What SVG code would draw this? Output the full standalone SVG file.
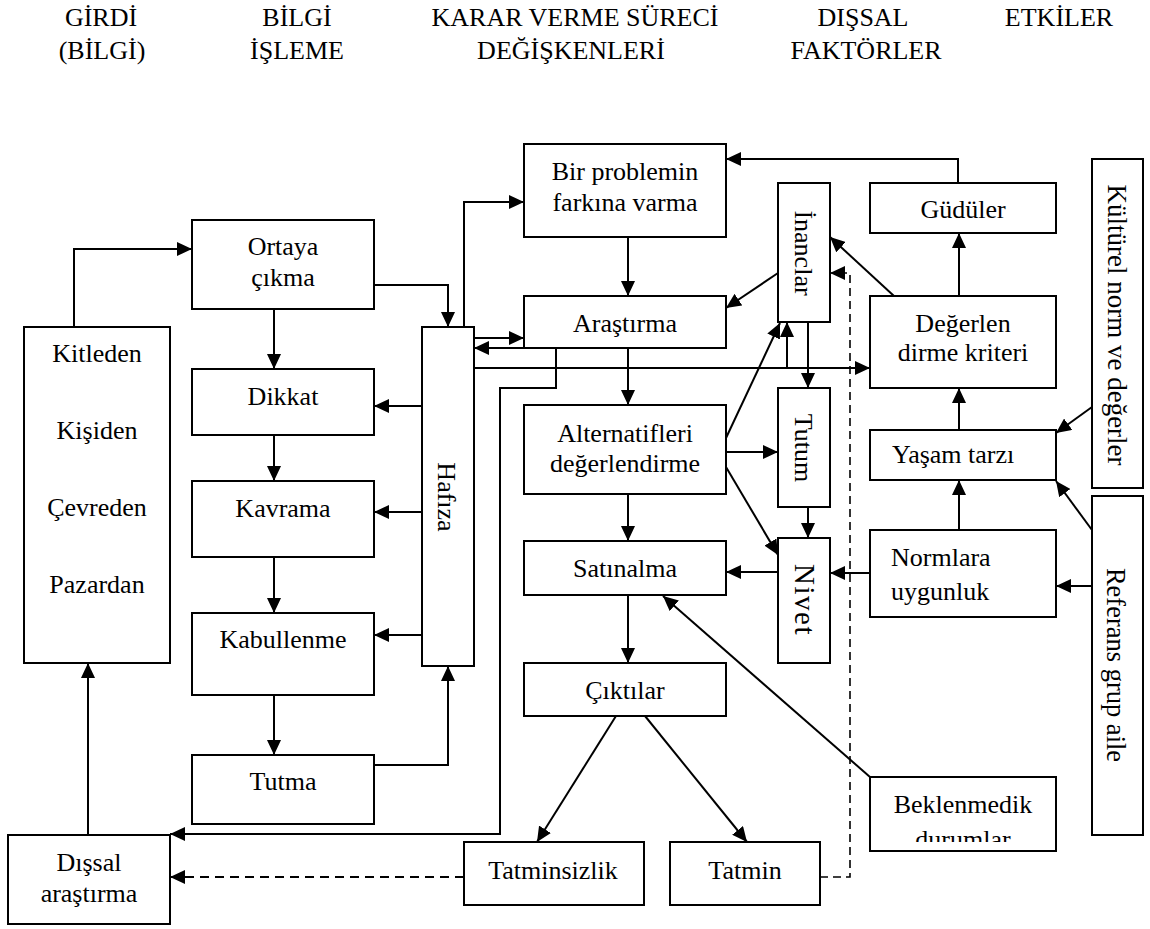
<svg xmlns="http://www.w3.org/2000/svg" width="1150" height="929" viewBox="0 0 1150 929">
  <style>
    text { font-family: "Liberation Serif", "Times New Roman", serif; font-size: 26px; fill: #000; }
    .c { text-anchor: middle; }
    .box { fill: #fff; stroke: #000; stroke-width: 2; }
    .ln { fill: none; stroke: #000; stroke-width: 2; }
    .dash { fill: none; stroke: #000; stroke-width: 2; stroke-dasharray: 9 6; }
    .dash2 { fill: none; stroke: #000; stroke-width: 1.6; stroke-dasharray: 8 5; }
  </style>
  <defs>
    <marker id="ah" markerUnits="userSpaceOnUse" markerWidth="16" markerHeight="14" refX="15" refY="7" orient="auto">
      <path d="M0,0 L15,7 L0,14 Z" fill="#000"/>
    </marker>
    <clipPath id="clipBek">
      <rect x="870" y="777" width="186" height="65"/>
    </clipPath>
  </defs>

  <rect width="1150" height="929" fill="#fff"/>

  <!-- column headings -->
  <g id="headings">
    <text class="c" x="101" y="26">GİRDİ</text>
    <text class="c" x="102" y="59">(BİLGİ)</text>
    <text class="c" x="297" y="26">BİLGİ</text>
    <text class="c" x="297" y="59">İŞLEME</text>
    <text class="c" x="575" y="26">KARAR VERME SÜRECİ</text>
    <text class="c" x="571" y="59">DEĞİŞKENLERİ</text>
    <text class="c" x="863" y="26">DIŞSAL</text>
    <text class="c" x="866" y="59">FAKTÖRLER</text>
    <text class="c" x="1059" y="26">ETKİLER</text>
  </g>

  <!-- input sources -->
  <g id="kaynaklar">
    <rect class="box" x="24" y="327" width="146" height="336"/>
    <text class="c" x="97" y="362">Kitleden</text>
    <text class="c" x="97" y="439">Kişiden</text>
    <text class="c" x="97" y="516">Çevreden</text>
    <text class="c" x="97" y="593">Pazardan</text>
  </g>
  <g id="dissal-arastirma">
    <rect class="box" x="8" y="835" width="162" height="89"/>
    <text class="c" x="89" y="871">Dışsal</text>
    <text class="c" x="89" y="902">araştırma</text>
  </g>

  <!-- information processing -->
  <g id="ortaya-cikma">
    <rect class="box" x="192" y="220" width="182" height="89"/>
    <text class="c" x="283" y="255">Ortaya</text>
    <text class="c" x="283" y="286">çıkma</text>
  </g>
  <g id="dikkat">
    <rect class="box" x="192" y="369" width="182" height="66"/>
    <text class="c" x="283" y="405">Dikkat</text>
  </g>
  <g id="kavrama">
    <rect class="box" x="192" y="481" width="182" height="76"/>
    <text class="c" x="283" y="517">Kavrama</text>
  </g>
  <g id="kabullenme">
    <rect class="box" x="192" y="613" width="182" height="82"/>
    <text class="c" x="283" y="648">Kabullenme</text>
  </g>
  <g id="tutma">
    <rect class="box" x="192" y="755" width="182" height="69"/>
    <text class="c" x="283" y="790">Tutma</text>
  </g>
  <g id="hafiza">
    <rect class="box" x="422" y="327" width="52" height="339"/>
    <text class="c" transform="translate(438,497) rotate(90)">Hafıza</text>
  </g>

  <!-- decision process -->
  <g id="problem">
    <rect class="box" x="524" y="144" width="202" height="93"/>
    <text class="c" x="625" y="180">Bir problemin</text>
    <text class="c" x="625" y="211">farkına varma</text>
  </g>
  <g id="arastirma">
    <rect class="box" x="524" y="296" width="202" height="52"/>
    <text class="c" x="625" y="332">Araştırma</text>
  </g>
  <g id="alternatifler">
    <rect class="box" x="524" y="405" width="202" height="89"/>
    <text class="c" x="625" y="442">Alternatifleri</text>
    <text class="c" x="625" y="472">değerlendirme</text>
  </g>
  <g id="satinalma">
    <rect class="box" x="524" y="541" width="202" height="54"/>
    <text class="c" x="625" y="577">Satınalma</text>
  </g>
  <g id="ciktilar">
    <rect class="box" x="524" y="663" width="202" height="53"/>
    <text class="c" x="625" y="699">Çıktılar</text>
  </g>
  <g id="tatminsizlik">
    <rect class="box" x="464" y="842" width="180" height="63"/>
    <text class="c" x="553" y="879">Tatminsizlik</text>
  </g>
  <g id="tatmin">
    <rect class="box" x="670" y="842" width="150" height="63"/>
    <text class="c" x="745" y="879">Tatmin</text>
  </g>
  <g id="inanclar">
    <rect class="box" x="778" y="183" width="52" height="139"/>
    <text class="c" transform="translate(795,253) rotate(90)">İnanclar</text>
  </g>
  <g id="tutum">
    <rect class="box" x="778" y="388" width="52" height="119"/>
    <text class="c" transform="translate(795,448) rotate(90)">Tutum</text>
  </g>
  <g id="niyet">
    <rect class="box" x="778" y="538" width="52" height="125"/>
    <text class="c" style="font-size:29px;letter-spacing:1.5px" transform="translate(795,600) rotate(90)">Nivet</text>
  </g>

  <!-- external factors -->
  <g id="guduler">
    <rect class="box" x="870" y="183" width="186" height="50"/>
    <text class="c" x="963" y="218">Güdüler</text>
  </g>
  <g id="kriter">
    <rect class="box" x="870" y="296" width="186" height="92"/>
    <text class="c" x="963" y="332">Değerlen</text>
    <text class="c" x="963" y="361">dirme kriteri</text>
  </g>
  <g id="yasam-tarzi">
    <rect class="box" x="870" y="430" width="186" height="50"/>
    <text x="892" y="463">Yaşam tarzı</text>
  </g>
  <g id="normlara-uygunluk">
    <rect class="box" x="870" y="530" width="186" height="87"/>
    <text x="891" y="566">Normlara</text>
    <text x="891" y="600">uygunluk</text>
  </g>
  <g id="beklenmedik">
    <rect class="box" x="870" y="777" width="186" height="74"/>
    <g clip-path="url(#clipBek)">
      <text class="c" x="963" y="813">Beklenmedik</text>
      <text class="c" x="963" y="848">durumlar</text>
    </g>
  </g>

  <!-- effects -->
  <g id="kulturel">
    <rect class="box" x="1092" y="159" width="51" height="329"/>
    <text class="c" style="font-size:27px" transform="translate(1108,325) rotate(90)">Kültürel norm ve değerler</text>
  </g>
  <g id="referans">
    <rect class="box" x="1092" y="496" width="51" height="339"/>
    <text class="c" style="font-size:26.5px" transform="translate(1107,665) rotate(90)">Referans grup aile</text>
  </g>

  <!-- connectors -->
  <g id="connectors">
    <path class="ln" d="M74,327 V249 H192" marker-end="url(#ah)"/>
    <path class="ln" d="M374,285 H448 V327" marker-end="url(#ah)"/>
    <path class="ln" d="M274,309 V369" marker-end="url(#ah)"/>
    <path class="ln" d="M274,435 V481" marker-end="url(#ah)"/>
    <path class="ln" d="M274,557 V613" marker-end="url(#ah)"/>
    <path class="ln" d="M274,695 V755" marker-end="url(#ah)"/>
    <path class="ln" d="M422,406 H374" marker-end="url(#ah)"/>
    <path class="ln" d="M422,512 H374" marker-end="url(#ah)"/>
    <path class="ln" d="M422,635 H374" marker-end="url(#ah)"/>
    <path class="ln" d="M374,765 H448 V666" marker-end="url(#ah)"/>
    <path class="ln" d="M88,835 V663" marker-end="url(#ah)"/>
    <path class="ln" d="M464,327 V202 H524" marker-end="url(#ah)"/>
    <path class="ln" d="M474,338 H524" marker-end="url(#ah)"/>
    <path class="ln" d="M524,348 H474" marker-end="url(#ah)"/>
    <path class="ln" d="M556,348 V388 H500 V834 H170" marker-end="url(#ah)"/>
    <path class="ln" d="M474,368 H870" marker-end="url(#ah)"/>
    <path class="ln" d="M787,368 V322" marker-end="url(#ah)"/>
    <path class="ln" d="M628,237 V296" marker-end="url(#ah)"/>
    <path class="ln" d="M628,348 V405" marker-end="url(#ah)"/>
    <path class="ln" d="M628,494 V541" marker-end="url(#ah)"/>
    <path class="ln" d="M628,595 V663" marker-end="url(#ah)"/>
    <path class="ln" d="M616,716 L537,842" marker-end="url(#ah)"/>
    <path class="ln" d="M645,716 L747,842" marker-end="url(#ah)"/>
    <path class="dash" d="M464,877 H170" marker-end="url(#ah)"/>
    <path class="dash2" d="M820,877 H850 V273 H830" marker-end="url(#ah)"/>
    <path class="ln" d="M778,273 L726,308" marker-end="url(#ah)"/>
    <path class="ln" d="M726,438 L780,323" marker-end="url(#ah)"/>
    <path class="ln" d="M726,452 H778" marker-end="url(#ah)"/>
    <path class="ln" d="M726,467 L778,555" marker-end="url(#ah)"/>
    <path class="ln" d="M808,322 V388" marker-end="url(#ah)"/>
    <path class="ln" d="M808,507 V538" marker-end="url(#ah)"/>
    <path class="ln" d="M778,572 H726" marker-end="url(#ah)"/>
    <path class="ln" d="M870,573 H830" marker-end="url(#ah)"/>
    <path class="ln" d="M870,777 L663,596" marker-end="url(#ah)"/>
    <path class="ln" d="M958,183 V159 H726" marker-end="url(#ah)"/>
    <path class="ln" d="M959,296 V233" marker-end="url(#ah)"/>
    <path class="ln" d="M894,296 L830,237" marker-end="url(#ah)"/>
    <path class="ln" d="M959,430 V388" marker-end="url(#ah)"/>
    <path class="ln" d="M959,530 V480" marker-end="url(#ah)"/>
    <path class="ln" d="M1092,407 L1056,433" marker-end="url(#ah)"/>
    <path class="ln" d="M1092,530 L1056,481" marker-end="url(#ah)"/>
    <path class="ln" d="M1092,586 H1056" marker-end="url(#ah)"/>
  </g>
</svg>
